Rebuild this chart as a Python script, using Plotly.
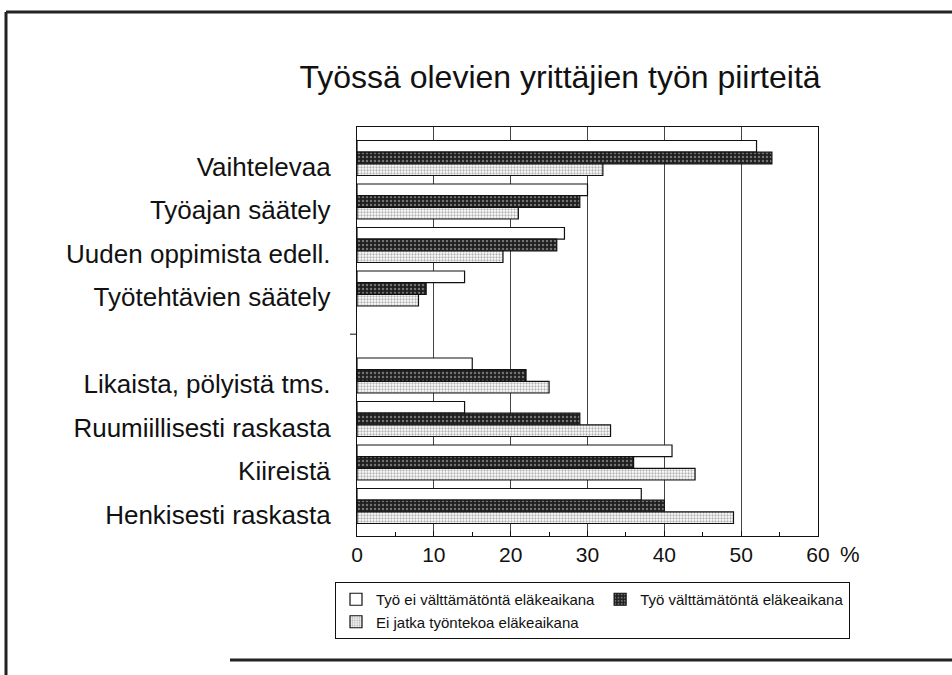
import plotly.graph_objects as go

title_text = "Työssä olevien yrittäjien työn piirteitä"
categories = ["Vaihtelevaa", "Työajan säätely", "Uuden oppimista edell.", "Työtehtävien säätely", "",
              "Likaista, pölyistä tms.", "Ruumiillisesti raskasta", "Kiireistä", "Henkisesti raskasta"]
series_names = ["Työ ei välttämätöntä eläkeaikana", "Työ välttämätöntä eläkeaikana",
                "Ei jatka työntekoa eläkeaikana"]
values_not_needed = [52, 30, 27, 14, None, 15, 14, 41, 37]
values_needed = [54, 29, 26, 9, None, 22, 29, 36, 40]
values_not_continue = [32, 21, 19, 8, None, 25, 33, 44, 49]
x_ticks = [0, 10, 20, 30, 40, 50, 60]

W, H = 952, 675
L, R, T, B = 357, 818, 127, 536

def px(x):
    return (x - L) / (R - L)

def py(y):
    return (B - y) / (B - T)

positions = list(range(len(categories)))
font = "Liberation Sans, Arial, sans-serif"

fig = go.Figure()
styles = [
    dict(color="white", pattern=dict(shape="")),
    dict(color="#1e1e1e", pattern=dict(shape=".", fgcolor="#c8c8c8", bgcolor="#1e1e1e", size=4, solidity=0.3)),
    dict(color="white", pattern=dict(shape=".", fgcolor="#666666", bgcolor="#ffffff", size=3, solidity=0.45)),
]
for name, vals, st in zip(series_names, [values_not_needed, values_needed, values_not_continue], styles):
    fig.add_trace(go.Bar(
        x=vals, y=positions, name=name, orientation="h",
        marker=dict(color=st["color"], pattern=st["pattern"], line=dict(color="#111", width=1.2)),
    ))

label_offset = 0.2
label_vals = [p + label_offset for p, c in zip(positions, categories) if c]
label_text = [c for c in categories if c]

fig.update_layout(
    width=W, height=H,
    margin=dict(l=L, r=W - R, t=T, b=H - B, autoexpand=False),
    paper_bgcolor="white", plot_bgcolor="white",
    barmode="group", bargap=0.195, bargroupgap=0,
    font=dict(family=font, color="#111"),
    title=dict(text=title_text, x=560 / W, xanchor="center", y=1 - 77 / H, yanchor="middle",
               xref="container", yref="container", font=dict(size=32, family=font, color="#111")),
    showlegend=True,
    legend=dict(orientation="h", x=px(850), xanchor="right", y=py(582), yanchor="top",
                font=dict(size=15, family=font, color="#111"),
                bordercolor="#111", borderwidth=1, bgcolor="white",
                traceorder="normal", itemwidth=30),
)

fig.update_xaxes(
    range=[0, 60], tickvals=x_ticks, ticktext=[str(v) for v in x_ticks],
    showgrid=True, gridcolor="#444", gridwidth=1,
    showline=True, linecolor="#111", linewidth=1.2, mirror=True,
    ticks="inside", ticklen=5, tickcolor="#111",
    minor=dict(dtick=5, ticks="inside", ticklen=4, tickcolor="#111", showgrid=False),
    tickfont=dict(size=21, family=font, color="#111"),
    zeroline=False, fixedrange=True,
)
fig.update_yaxes(
    range=[(B - 158) / 43.5, (T - 158) / 43.5],
    tickvals=label_vals, ticktext=label_text,
    showgrid=False, showline=True, linecolor="#111", linewidth=1.2, mirror=True,
    ticks="", ticklabelstandoff=20,
    tickfont=dict(size=26, family=font, color="#111"),
    zeroline=False, fixedrange=True,
)

fig.add_annotation(text="%", xref="paper", yref="paper", x=px(850), y=py(554),
                   xanchor="center", yanchor="middle", showarrow=False,
                   font=dict(size=22, family=font, color="#111"))

# small tick at the empty (separator) category
fig.add_shape(type="line", xref="paper", yref="y", x0=px(350), x1=px(357), y0=4.05, y1=4.05,
              line=dict(color="#111", width=1))

# outer slide frame
frame = dict(color="#222", width=3)
fig.add_shape(type="line", xref="paper", yref="paper", x0=px(6), x1=px(952), y0=py(12), y1=py(12), line=frame)
fig.add_shape(type="line", xref="paper", yref="paper", x0=px(6), x1=px(6), y0=py(12), y1=py(675), line=frame)
fig.add_shape(type="line", xref="paper", yref="paper", x0=px(230), x1=px(952), y0=py(660), y1=py(660), line=frame)

fig.write_html("out.html", config={"displayModeBar": False, "staticPlot": True},
               post_script="document.body.style.margin='0';document.body.style.overflow='hidden';")
